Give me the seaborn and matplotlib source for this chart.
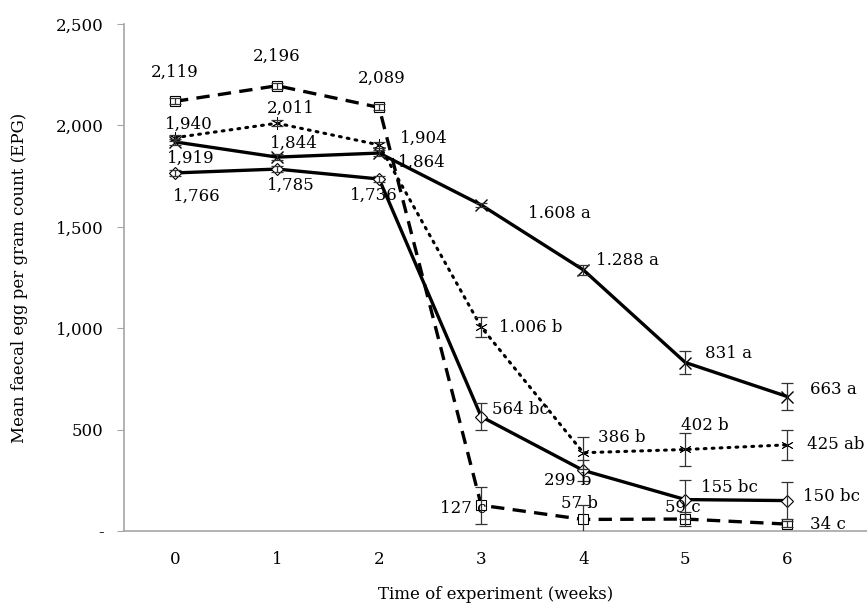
import numpy as np
import pandas as pd
import seaborn as sns
import matplotlib.pyplot as plt
from matplotlib.ticker import FuncFormatter

weeks = [0, 1, 2, 3, 4, 5, 6]

# four treatment groups
g_dash = [2119, 2196, 2089, 127, 57, 59, 34]
g_dot = [1940, 2011, 1904, 1006, 386, 402, 425]
g_x = [1919, 1844, 1864, 1608, 1288, 831, 663]
g_dia = [1766, 1785, 1736, 564, 299, 155, 150]

err_dash = [15, 15, 15, 90, 70, 35, 15]
err_dot = [15, 15, 15, 50, 80, 80, 75]
err_x = [15, 15, 15, 10, 25, 57, 67]
err_dia = [15, 15, 15, 65, 50, 95, 90]

lab_dash = ["2,119", "2,196", "2,089", "127 c", "57 b", "59 c", "34 c"]
lab_dot = ["1,940", "2,011", "1,904", "1.006 b", "386 b", "402 b", "425 ab"]
lab_x = ["1,919", "1,844", "1,864", "1.608 a", "1.288 a", "831 a", "663 a"]
lab_dia = ["1,766", "1,785", "1,736", "564 bc", "299 b", "155 bc", "150 bc"]

# label offsets in points (dx, dy)
off_dash = [(0, 21), (0, 21), (2, 21), (-13, -2), (-3, 11.5), (-2, 8), (29, 0)]
off_dot = [(10, 9.5), (10, 11), (32, 5), (36, 0), (28, 11), (14, 17), (35, 0)]
off_x = [(11.5, -12), (12, 10), (31, -7), (56, -6), (32, 7), (31, 6.5), (33, 5)]
off_dia = [(16, -17), (10, -11.5), (-4, -11.5), (28, 5), (-11, -7), (32, 9), (32, 3)]

groups = ["dash", "dot", "x", "dia"]
vals = [g_dash, g_dot, g_x, g_dia]
errs = [err_dash, err_dot, err_x, err_dia]
labs = [lab_dash, lab_dot, lab_x, lab_dia]
offs = [off_dash, off_dot, off_x, off_dia]

df = pd.DataFrame({
    "week": weeks * 4,
    "epg": g_dash + g_dot + g_x + g_dia,
    "group": [g for g in groups for _ in weeks],
})

sns.set_style("white")
plt.rcParams['font.family'] = ['DejaVu Serif']
plt.rcParams['text.color'] = 'black'
plt.rcParams['axes.labelcolor'] = 'black'

fig = plt.figure(figsize=(8.67, 6.10), dpi=100)
ax = fig.add_axes([0.143, 0.1295, 0.857, 0.831])

dashes = {"dash": (4, 2.5), "dot": (0.6, 2.0), "x": "", "dia": ""}
markers = {"dash": "s", "dot": "*", "x": "X", "dia": "D"}

sns.lineplot(data=df, x="week", y="epg", hue="group", style="group",
             palette={g: "black" for g in groups}, dashes=dashes, markers=markers,
             linewidth=2.4, legend=False, ax=ax, zorder=3)

for line, g in zip(ax.get_lines(), groups):
    if g == "dot":
        line.set_dash_capstyle("round")
        line.set_linewidth(2.2)
        line.set_marker((6, 2, 0))
        line.set_markersize(9)
        line.set_markeredgewidth(0.6)
        line.set_markeredgecolor("black")
    elif g == "x":
        line.set_marker("x")
        line.set_markersize(8.5)
        line.set_markeredgewidth(1.0)
        line.set_markeredgecolor("black")
    else:
        line.set_markerfacecolor("white")
        line.set_markeredgecolor("black")
        line.set_markeredgewidth(0.8)
        line.set_markersize(6.5)

for v, e, lb, of in zip(vals, errs, labs, offs):
    ax.errorbar(weeks, v, yerr=e, fmt="none", ecolor="#333333",
                elinewidth=0.9, capsize=4, capthick=0.9, zorder=4)
    for w, y, t, (dx, dy) in zip(weeks, v, lb, of):
        ax.annotate(t, (w, y), xytext=(dx, dy), textcoords="offset points",
                    ha="center", va="center", fontsize=12, color="black", zorder=5)

ax.set_xlim(-0.5, 6.78)
ax.set_ylim(0, 2500)
ax.set_yticks([0, 500, 1000, 1500, 2000, 2500])
ax.yaxis.set_major_formatter(FuncFormatter(lambda v, p: "-" if v == 0 else f"{int(v):,}"))
ax.set_xticks(weeks)
ax.tick_params(axis="y", left=True, length=5, color="#a6a6a6", labelcolor="black",
               labelsize=12, pad=9.5)
ax.tick_params(axis="x", bottom=False, labelcolor="black", labelsize=12, pad=11)

for s in ["top", "right"]:
    ax.spines[s].set_visible(False)
for s in ["left", "bottom"]:
    ax.spines[s].set_color("#a6a6a6")
    ax.spines[s].set_linewidth(1.2)

ax.set_xlabel("Time of experiment (weeks)", fontsize=12, labelpad=13)
ax.set_ylabel("Mean faecal egg per gram count (EPG)", fontsize=12, labelpad=20)

fig.savefig("out.png", dpi=100)
